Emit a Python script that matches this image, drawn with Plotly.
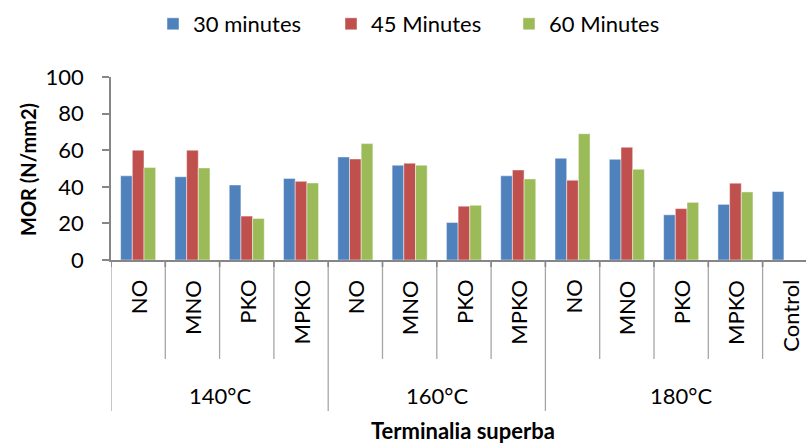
import plotly.graph_objects as go

# Modulus of rupture of Terminalia superba, by oil treatment and temperature
groups = ["140°C", "160°C", "180°C"]
treatments = ["NO", "MNO", "PKO", "MPKO"]
control_label = "Control"

series_names = ["30 minutes", "45 Minutes", "60 Minutes"]
colors = ["#4F81BD", "#C0504D", "#9BBB59"]

# values per category: 140°C NO..MPKO, 160°C NO..MPKO, 180°C NO..MPKO, Control
mor_30 = [46.0, 45.5, 41.0, 44.6, 56.3, 51.8, 20.5, 46.0, 55.6, 55.0, 24.7, 30.4, 37.4]
mor_45 = [60.0, 60.0, 24.0, 43.0, 55.2, 52.9, 29.4, 49.2, 43.6, 61.6, 28.1, 42.0, None]
mor_60 = [50.5, 50.3, 22.7, 42.1, 63.6, 51.8, 29.9, 44.3, 69.0, 49.6, 31.5, 37.2, None]

y_ticks = [0, 20, 40, 60, 80, 100]
y_title = "MOR (N/mm2)"
x_title = "Terminalia superba"

# category keys (unique) and the label drawn for each
cat_keys = [f"{g} {t}" for g in groups for t in treatments] + [control_label]
cat_text = [t for g in groups for t in treatments] + [control_label]
n = len(cat_keys)

FONT = "Lato, 'Open Sans', Arial, sans-serif"
AXIS = "#868686"
DIV = "#A6A6A6"

fig = go.Figure()
for name, vals, col in zip(series_names, [mor_30, mor_45, mor_60], colors):
    fig.add_trace(go.Bar(
        x=cat_keys, y=vals, name=name,
        marker=dict(color=col, line=dict(color="rgba(255,255,255,0.45)", width=1)),
    ))

# pixel geometry of the plot area
W, H = 806, 444
L, T, B = 111, 77, 184
plot_h = H - T - B
cat_px = 54.3
plot_w = W - L
x_hi = -0.5 + plot_w / cat_px


def py(p):
    """page pixel row -> paper y"""
    return (H - B - p) / plot_h


def px(p):
    """page pixel column -> paper x"""
    return (p - L) / plot_w


shapes = []
annotations = []

# category separators below the axis: short between treatments, long between groups
group_edges = {-0.5, 3.5, 7.5}
for i in range(n):
    edge = i - 0.5
    long_line = edge in group_edges
    shapes.append(dict(type="line", xref="x", yref="paper",
                       x0=edge, x1=edge, y0=0, y1=py(411 if long_line else 359),
                       line=dict(color=DIV, width=1.3)))
    shapes.append(dict(type="line", xref="x", yref="paper",
                       x0=edge, x1=edge, y0=0, y1=py(267),
                       line=dict(color=AXIS, width=1.6)))

# rotated treatment labels
for key, txt in zip(cat_keys, cat_text):
    annotations.append(dict(x=key, xref="x", y=py(278), yref="paper",
                            text=txt, textangle=-90, showarrow=False,
                            xanchor="center", yanchor="top",
                            font=dict(family=FONT, size=22, color="black")))

# temperature group labels (the last group also spans the control)
group_spans = [(0, 3), (4, 7), (8, n - 1)]
for g, (a, b) in zip(groups, group_spans):
    annotations.append(dict(x=(a + b) / 2, xref="x", y=py(395), yref="paper",
                            text=g, showarrow=False, xanchor="center", yanchor="middle",
                            font=dict(family=FONT, size=22, color="black")))

# axis titles
annotations.append(dict(x=px(463), xref="paper", y=py(430), yref="paper",
                        text=f"<b>{x_title}</b>", showarrow=False,
                        xanchor="center", yanchor="middle",
                        font=dict(family=FONT, size=22, color="black")))
annotations.append(dict(x=px(28), xref="paper", y=py(170), yref="paper",
                        text=f"<b>{y_title}</b>", textangle=-90, showarrow=False,
                        xanchor="center", yanchor="middle",
                        font=dict(family=FONT, size=20, color="black")))

fig.update_layout(
    width=W, height=H,
    margin=dict(l=L, r=0, t=T, b=B, pad=0),
    paper_bgcolor="white", plot_bgcolor="white",
    barmode="group", bargap=0.355, bargroupgap=0,
    font=dict(family=FONT, size=22, color="black"),
    showlegend=True,
    legend=dict(orientation="h", x=px(153), xanchor="left", y=py(24), yanchor="middle",
                entrywidth=133, entrywidthmode="pixels",
                font=dict(family=FONT, size=22, color="black"),
                bgcolor="rgba(0,0,0,0)", borderwidth=0, traceorder="normal"),
    shapes=shapes, annotations=annotations,
)
fig.update_xaxes(type="category", range=[-0.5, x_hi], showticklabels=False,
                 showline=True, linecolor=AXIS, linewidth=1.6, ticks="",
                 showgrid=False, zeroline=False, fixedrange=True)
fig.update_yaxes(range=[0, 100], tickvals=y_ticks, ticks="outside", ticklen=7,
                 tickcolor=AXIS, tickwidth=1.6, showline=True, linecolor=AXIS,
                 linewidth=1.6, showgrid=False, zeroline=False, ticklabelstandoff=14,
                 tickfont=dict(family=FONT, size=22, color="black"), fixedrange=True)

fig.write_html("out.html")
